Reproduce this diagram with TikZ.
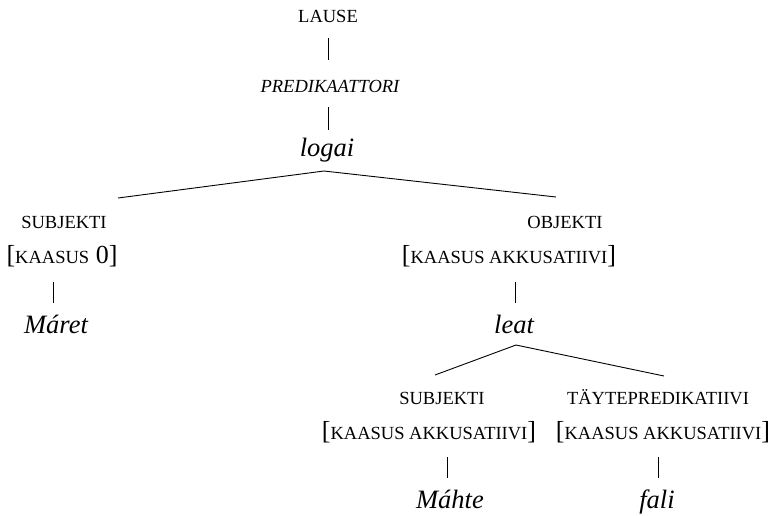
\documentclass[tikz,border=0pt]{standalone}
\usepackage{fontspec}
\setmainfont{Liberation Serif}
\newcommand\smc[1]{{\fontsize{18.5}{20}\selectfont #1}}
\tikzset{
  lbl/.style={inner sep=0pt, anchor=base, font=\fontsize{18.5}{20}\selectfont},
  ilbl/.style={inner sep=0pt, anchor=base, font=\fontsize{18.5}{20}\selectfont\itshape},
  feat/.style={inner sep=0pt, anchor=base, font=\fontsize{26}{30}\selectfont},
  word/.style={inner sep=0pt, anchor=base, font=\fontsize{26.5}{30}\selectfont\itshape},
  bar/.style={line width=0.8pt},
  edge/.style={line width=0.9pt},
}
\begin{document}
\begin{tikzpicture}[x=1pt,y=-1pt]
\useasboundingbox (0,0) rectangle (772,515);
% top spine
\node[lbl] (lause) at (328,22) {LAUSE};
\node[ilbl] (pred) at (330,92) {PREDIKAATTORI};
\node[word] (logai) at (327,156) {logai};
\coordinate (b1a) at (328,38);
\coordinate (b1b) at (328,60);
\coordinate (b2a) at (328,107);
\coordinate (b2b) at (328,130);
\draw[bar] (b1a) -- (b1b);
\draw[bar] (b2a) -- (b2b);
% branches from logai
\coordinate (top1) at (324,171);
\coordinate (l1) at (118,198);
\coordinate (r1) at (556,197);
\draw[edge] (l1) -- (top1) -- (r1);
% left subtree
\node[lbl] (subj1) at (64,228) {SUBJEKTI};
\node[feat] (k1) at (62,263) {[\smc{KAASUS} 0]};
\coordinate (b3a) at (53,282);
\coordinate (b3b) at (53,303);
\draw[bar] (b3a) -- (b3b);
\node[word] (maret) at (56,333) {Máret};
% right subtree
\node[lbl] (obj) at (565,228) {OBJEKTI};
\node[feat] (k2) at (509,263) {[\smc{KAASUS AKKUSATIIVI}]};
\coordinate (b4a) at (515,282);
\coordinate (b4b) at (515,303);
\draw[bar] (b4a) -- (b4b);
\node[word] (leat) at (514,333) {leat};
% branches from leat
\coordinate (top2) at (516,345);
\coordinate (l2) at (435,375);
\coordinate (r2) at (664,376);
\draw[edge] (l2) -- (top2) -- (r2);
% lower left
\node[lbl] (subj2) at (442,404) {SUBJEKTI};
\node[feat] (k3) at (429,439) {[\smc{KAASUS AKKUSATIIVI}]};
\coordinate (b5a) at (447,457);
\coordinate (b5b) at (447,478);
\draw[bar] (b5a) -- (b5b);
\node[word] (mahte) at (450,508) {Máhte};
% lower right
\node[lbl] (tayte) at (658,404) {TÄYTEPREDIKATIIVI};
\node[feat] (k4) at (663,439) {[\smc{KAASUS AKKUSATIIVI}]};
\coordinate (b6a) at (658,457);
\coordinate (b6b) at (658,478);
\draw[bar] (b6a) -- (b6b);
\node[word] (fali) at (657,508) {fali};
\end{tikzpicture}
\end{document}
